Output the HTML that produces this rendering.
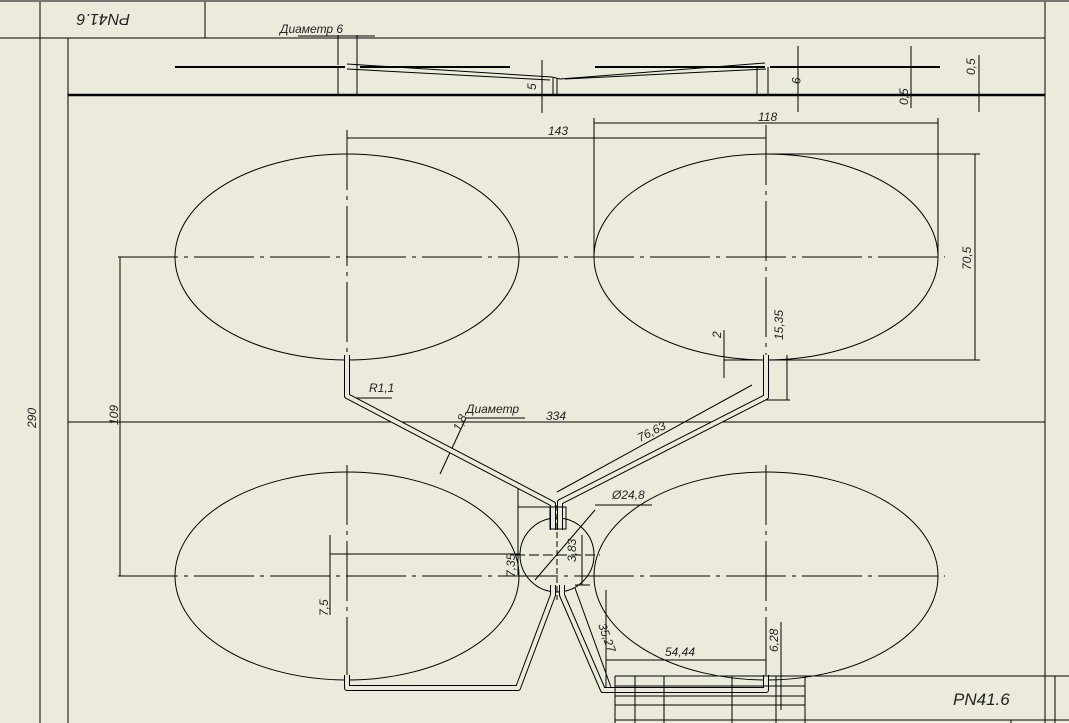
<!DOCTYPE html>
<html><head><meta charset="utf-8"><style>
html,body{margin:0;padding:0;background:#ECEBDB;}
svg{display:block;}
text{font-family:"Liberation Sans",sans-serif;font-style:italic;fill:#222;}
</style></head><body>
<svg width="1069" height="723" viewBox="0 0 1069 723" xmlns="http://www.w3.org/2000/svg">
<rect width="1069" height="723" fill="#ECEBDB"/>
<g stroke="#000" fill="none" stroke-width="1">
<line x1="40" y1="0" x2="40" y2="723"/>
<line x1="68" y1="38" x2="68" y2="723"/>
<line x1="0" y1="38" x2="1045" y2="38"/>
<line x1="205" y1="0" x2="205" y2="38"/>
<line x1="1045" y1="0" x2="1045" y2="723"/>
<line x1="0" y1="1" x2="1069" y2="1" stroke="#777" stroke-width="2"/>
<line x1="68" y1="95" x2="1045" y2="95" stroke-width="2.5"/>
<line x1="175" y1="67" x2="345" y2="67" stroke-width="2"/>
<line x1="770" y1="67" x2="940" y2="67" stroke-width="2"/>
<line x1="360" y1="67" x2="510" y2="67" stroke-width="2"/>
<line x1="595" y1="67" x2="765" y2="67" stroke-width="2"/>
<path d="M347 64 L552 77 L560 79 L765 63 M347 69 L550 80 M565 79 L766 69"/>
<line x1="338" y1="67" x2="338" y2="95"/><line x1="357" y1="35" x2="357" y2="95"/>
<line x1="338" y1="35" x2="338" y2="65"/>
<line x1="298" y1="36" x2="375" y2="36"/>
<line x1="553" y1="78" x2="553" y2="95"/><line x1="557" y1="78" x2="557" y2="95"/>
<line x1="542" y1="60" x2="542" y2="113"/>
<line x1="757" y1="67" x2="757" y2="95"/><line x1="768" y1="67" x2="768" y2="95"/>
<line x1="798" y1="46" x2="798" y2="112"/>
<line x1="911" y1="46" x2="911" y2="108"/>
<line x1="979" y1="55" x2="979" y2="112"/>
<ellipse cx="347" cy="257" rx="172" ry="103"/>
<ellipse cx="766" cy="257" rx="172" ry="103"/>
<ellipse cx="347" cy="576" rx="172" ry="104"/>
<ellipse cx="766" cy="576" rx="172" ry="104"/>
<circle cx="557" cy="555" r="37"/>
<g stroke-dasharray="60,6,4,6">
<line x1="118" y1="257" x2="945" y2="257"/>
<line x1="118" y1="576" x2="945" y2="576"/>
<line x1="347" y1="130" x2="347" y2="355"/>
<line x1="766" y1="125" x2="766" y2="355"/>
<line x1="347" y1="465" x2="347" y2="675"/>
<line x1="766" y1="465" x2="766" y2="675"/>
<line x1="557" y1="505" x2="557" y2="600" stroke-dasharray="6,3"/>
<line x1="515" y1="555" x2="600" y2="555" stroke-dasharray="10,4"/>
</g>
<line x1="68" y1="422" x2="1045" y2="422"/>
<line x1="120" y1="257" x2="120" y2="576"/>
<line x1="347" y1="138" x2="766" y2="138"/>
<line x1="594" y1="123" x2="938" y2="123"/>
<line x1="594" y1="118" x2="594" y2="255"/>
<line x1="938" y1="118" x2="938" y2="255"/>
<line x1="766" y1="154" x2="980" y2="154"/><line x1="766" y1="360" x2="980" y2="360"/>
<line x1="975" y1="154" x2="975" y2="360"/>
<line x1="724" y1="330" x2="724" y2="378"/>
<line x1="724" y1="360" x2="785" y2="360"/>
<line x1="787" y1="355" x2="787" y2="400"/>
<line x1="766" y1="400" x2="790" y2="400"/>
<line x1="330" y1="535" x2="330" y2="615"/>
<line x1="330" y1="554" x2="520" y2="554"/>
<line x1="518" y1="486" x2="518" y2="575"/>
<line x1="518" y1="507" x2="555" y2="507"/>
<line x1="582" y1="535" x2="582" y2="585"/>
<line x1="575" y1="585" x2="590" y2="585"/>
<line x1="535" y1="580" x2="595" y2="510"/>
<line x1="595" y1="505" x2="652" y2="505"/>
<line x1="347" y1="398" x2="392" y2="398"/>
<line x1="440" y1="474" x2="466" y2="418"/>
<line x1="466" y1="418" x2="525" y2="418"/>
<line x1="557" y1="492" x2="752" y2="385"/>
<line x1="606" y1="660" x2="766" y2="660"/>
<line x1="606" y1="590" x2="606" y2="690"/>
<line x1="781" y1="622" x2="781" y2="710"/>
<line x1="575" y1="588" x2="612" y2="690"/>
<g stroke-width="6" stroke-linejoin="round">
<path d="M347 355 L347 396 L553 504 L553 530"/>
<path d="M766 355 L766 397 L560 502 L560 530"/>
<path d="M553 585 L553 595 L518 688 L347 688 L347 675"/>
<path d="M562 585 L562 595 L603 690 L766 690 L766 675"/>
</g>
<g stroke="#ECEBDB" stroke-width="4" stroke-linejoin="round">
<path d="M347 355 L347 396 L553 504 L553 530"/>
<path d="M766 355 L766 397 L560 502 L560 530"/>
<path d="M553 585 L553 595 L518 688 L347 688 L347 675"/>
<path d="M562 585 L562 595 L603 690 L766 690 L766 675"/>
</g>
<rect x="550" y="507" width="16" height="22"/>
<line x1="615" y1="676" x2="1069" y2="676"/>
<line x1="615" y1="720" x2="1069" y2="720"/>
<line x1="615" y1="686" x2="805" y2="686"/>
<line x1="615" y1="696" x2="805" y2="696"/>
<line x1="615" y1="705" x2="805" y2="705"/>
<line x1="615" y1="676" x2="615" y2="723"/>
<line x1="635" y1="676" x2="635" y2="723"/>
<line x1="664" y1="676" x2="664" y2="723"/>
<line x1="732" y1="676" x2="732" y2="723"/>
<line x1="776" y1="676" x2="776" y2="723"/>
<line x1="805" y1="676" x2="805" y2="723"/>
<line x1="1011" y1="720" x2="1011" y2="723"/>
<line x1="1055" y1="676" x2="1055" y2="723"/>
</g>
<g font-size="12">
<text x="280" y="33">Диаметр 6</text>
<text x="548" y="135">143</text>
<text x="758" y="121">118</text>
<text x="546" y="420">334</text>
<text x="466" y="413">Диаметр</text>
<text x="369" y="392">R1,1</text>
<text x="612" y="499">Ø24,8</text>
<text x="665" y="656">54,44</text>
<text transform="translate(36,428) rotate(-90)">290</text>
<text transform="translate(118,425) rotate(-90)">109</text>
<text transform="translate(971,270) rotate(-90)">70,5</text>
<text transform="translate(783,340) rotate(-90)">15,35</text>
<text transform="translate(721,338) rotate(-90)">2</text>
<text transform="translate(328,616) rotate(-90)">7,5</text>
<text transform="translate(515,577) rotate(-90)">7,35</text>
<text transform="translate(576,562) rotate(-90)">3,83</text>
<text transform="translate(778,652) rotate(-90)">6,28</text>
<text transform="translate(536,90) rotate(-90)">5</text>
<text transform="translate(792,77) rotate(90)">9</text>
<text transform="translate(908,105) rotate(-90)">0,5</text>
<text transform="translate(975,75) rotate(-90)">0,5</text>
<text transform="translate(460,432) rotate(-65)">1,8</text>
<text transform="translate(640,442) rotate(-27)">76,63</text>
<text transform="translate(598,625) rotate(70)">35,27</text>
</g>
<text x="953" y="705" font-size="17">PN41.6</text>
<text transform="translate(130,14) rotate(180)" font-size="16">PN41.6</text>
</svg>
</body></html>
